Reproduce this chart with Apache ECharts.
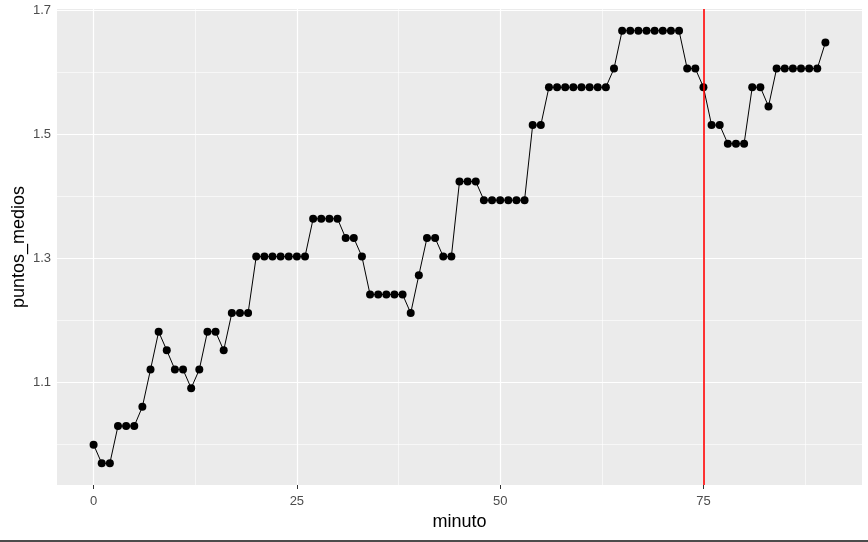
<!DOCTYPE html>
<html>
<head>
<meta charset="utf-8">
<script src="https://cdn.jsdelivr.net/npm/echarts@6/dist/echarts.min.js"></script>
<style>
html,body{margin:0;padding:0;background:#fff;}
#c{width:868px;height:542px;}
</style>
</head>
<body>
<div id="c"></div>
<script>
// minute (x) values
var minuto = [0,1,2,3,4,5,6,7,8,9,10,11,12,13,14,15,16,17,18,19,20,21,22,23,24,25,26,27,28,29,30,31,32,33,34,35,36,37,38,39,40,41,42,43,44,45,46,47,48,49,50,51,52,53,54,55,56,57,58,59,60,61,62,63,64,65,66,67,68,69,70,71,72,73,74,75,76,77,78,79,80,81,82,83,84,85,86,87,88,89,90];
// puntos_medios (y) values
var puntosMedios = [
  1.000,0.970,0.970,1.030,1.030,1.030,1.061,1.121,1.182,1.152,
  1.121,1.121,1.091,1.121,1.182,1.182,1.152,1.212,1.212,1.212,
  1.303,1.303,1.303,1.303,1.303,1.303,1.303,1.364,1.364,1.364,
  1.364,1.333,1.333,1.303,1.242,1.242,1.242,1.242,1.242,1.212,
  1.273,1.333,1.333,1.303,1.303,1.424,1.424,1.424,1.394,1.394,
  1.394,1.394,1.394,1.394,1.515,1.515,1.576,1.576,1.576,1.576,
  1.576,1.576,1.576,1.576,1.606,1.667,1.667,1.667,1.667,1.667,
  1.667,1.667,1.667,1.606,1.606,1.576,1.515,1.515,1.485,1.485,
  1.485,1.576,1.576,1.545,1.606,1.606,1.606,1.606,1.606,1.606,
  1.648
];
// tick labels / grid positions
var xTicks = [0,25,50,75];
var xMinor = [12.5,37.5,62.5,87.5];
var yTicks = [1.1,1.3,1.5,1.7];
var yMinor = [1.0,1.2,1.4,1.6];
var vLine = [75];

var FONT = '"Liberation Sans", Arial, sans-serif';
var chart = echarts.init(document.getElementById('c'), null, {renderer:'canvas'});

function gridLines(vals, axis, width){
  return vals.map(function(v){ var o = {}; o[axis] = v; o.lineStyle = {color:'#ffffff', width:width, type:'solid'}; return o; });
}

var pts = minuto.map(function(m,i){ return [m, puntosMedios[i]]; });

chart.setOption({
  animation:false,
  backgroundColor:'#ffffff',
  grid:{left:57, right:6, top:9, bottom:57, show:true, backgroundColor:'#EBEBEB', borderWidth:0,
        containLabel:false, outerBoundsMode:'none'},
  xAxis:{
    type:'value', min:-4.5, max:94.5,
    name:'minuto', nameLocation:'middle', nameGap:28,
    nameTextStyle:{color:'#000', fontSize:18, fontFamily:FONT},
    axisLine:{show:false},
    axisTick:{show:true, length:4, lineStyle:{color:'#333333', width:1}, customValues:xTicks},
    axisLabel:{color:'#4D4D4D', fontSize:13, fontFamily:FONT, margin:10, customValues:xTicks},
    splitLine:{show:false}
  },
  yAxis:{
    type:'value', min:0.935, max:1.702,
    name:'puntos_medios', nameLocation:'middle', nameGap:29, nameRotate:90, nameMoveOverlap:false,
    nameTextStyle:{color:'#000', fontSize:18, fontFamily:FONT},
    axisLine:{show:false},
    axisTick:{show:true, length:4, lineStyle:{color:'#333333', width:1}, customValues:yTicks},
    axisLabel:{color:'#4D4D4D', fontSize:13, fontFamily:FONT, margin:6, customValues:yTicks,
      formatter:function(v){ return v.toFixed(1); }},
    splitLine:{show:false}
  },
  series:[
    {
      type:'line', data:[], silent:true, z:1,
      markLine:{silent:true, z:1, symbol:['none','none'], label:{show:false}, animation:false,
        data: gridLines(xMinor,'xAxis',0.6).concat(gridLines(yMinor,'yAxis',0.6))
              .concat(gridLines(xTicks,'xAxis',1.2)).concat(gridLines(yTicks,'yAxis',1.2))}
    },
    {
      type:'line', data:pts, z:3,
      symbol:'circle', symbolSize:8, showSymbol:true,
      lineStyle:{color:'#000', width:1},
      itemStyle:{color:'#000', borderWidth:0}
    },
    {
      type:'line', data:[], silent:true, z:5,
      markLine:{silent:true, z:10, symbol:['none','none'], label:{show:false}, animation:false,
        data: vLine.map(function(v){ return {xAxis:v, lineStyle:{color:'#FF0000', width:1.6, type:'solid'}}; })}
    }
  ],
  graphic:[
    {type:'line', shape:{x1:0, y1:541, x2:868, y2:541}, style:{stroke:'#111111', lineWidth:1.5}}
  ]
});
</script>
</body>
</html>
